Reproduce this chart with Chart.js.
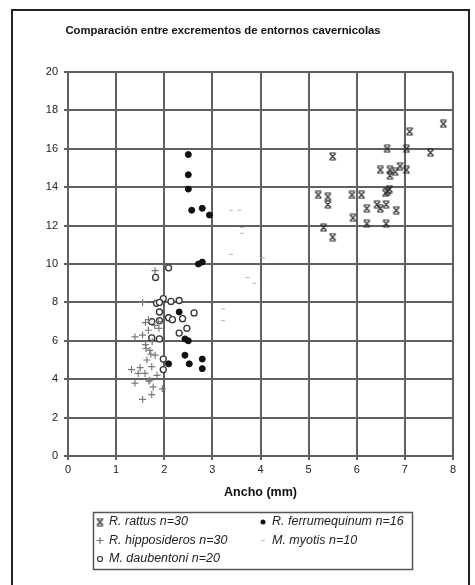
<!DOCTYPE html>
<html>
<head>
<meta charset="utf-8">
<script src="https://cdn.jsdelivr.net/npm/chart.js@4.4.1/dist/chart.umd.min.js"></script>
<style>
html, body { margin: 0; padding: 0; background: #fff; }
#marco { position: absolute; left: 11px; top: 9px; width: 455px; height: 600px; border: 2px solid #222; }
#zona { position: absolute; left: 0; top: 0; width: 475px; height: 585px; }
</style>
</head>
<body>
<div id="marco"></div>
<div id="zona"><canvas id="grafico_cuevas" width="475" height="585"></canvas></div>
<script>
// Datos: ancho (mm) en X, largo (mm) en Y
const rattus_x = [7.80, 7.10, 6.63, 7.03, 7.53, 5.50, 6.49, 6.69, 6.80, 6.90, 7.03, 6.69, 6.68, 6.64, 6.60,
                  5.20, 5.40, 5.40, 5.90, 6.10, 6.21, 6.42, 6.49, 6.61, 6.82, 5.92, 6.21, 6.61, 5.31, 5.50];
const rattus_y = [17.3, 16.9, 16.0, 16.0, 15.8, 15.6, 14.9, 14.9, 14.8, 15.1, 14.9, 14.6, 13.9, 13.8, 13.7,
                  13.6, 13.5, 13.1, 13.6, 13.6, 12.9, 13.1, 12.9, 13.1, 12.8, 12.4, 12.1, 12.1, 11.9, 11.4];

const ferrum_x = [2.50, 2.50, 2.50, 2.57, 2.79, 2.94, 2.71, 2.79, 2.31, 2.43, 2.50, 2.43, 2.79, 2.52, 2.79, 2.09];
const ferrum_y = [15.7, 14.65, 13.9, 12.8, 12.9, 12.55, 10.0, 10.1, 7.5, 6.1, 6.0, 5.25, 5.05, 4.8, 4.55, 4.8];

const hippo_x = [1.81, 1.55, 1.67, 1.61, 1.89, 1.67, 1.39, 1.55, 1.61, 1.70, 1.81, 1.64, 1.74, 1.32, 1.46,
                 1.60, 1.39, 1.70, 1.77, 1.96, 1.74, 1.55, 1.75, 1.88, 1.50, 1.85, 1.62, 1.72, 1.68, 1.80];
const hippo_y = [9.65, 8.0, 7.1, 6.95, 6.65, 6.55, 6.2, 6.3, 5.8, 5.5, 5.25, 5.0, 4.65, 4.5, 4.3,
                 4.3, 3.8, 3.95, 3.6, 3.5, 3.2, 2.95, 5.95, 7.0, 4.6, 4.2, 5.6, 5.3, 3.9, 6.8];

const myotis_x = [3.39, 3.56, 3.61, 3.62, 3.39, 4.05, 3.73, 3.87, 3.22, 3.22];
const myotis_y = [12.8, 12.8, 11.9, 11.6, 10.5, 10.3, 9.3, 9.0, 7.65, 7.05];

const daub_x = [2.09, 1.82, 1.98, 1.84, 1.90, 2.14, 2.31, 1.90, 2.62, 1.74, 1.90, 2.09, 2.17, 2.38, 2.47,
                2.31, 1.74, 1.90, 1.98, 1.98];
const daub_y = [9.8, 9.3, 8.2, 7.95, 8.0, 8.05, 8.1, 7.5, 7.45, 7.0, 7.05, 7.2, 7.1, 7.15, 6.65,
                6.4, 6.15, 6.1, 5.05, 4.5];

const ticks_x = [0, 1, 2, 3, 4, 5, 6, 7, 8];
const ticks_y = [0, 2, 4, 6, 8, 10, 12, 14, 16, 18, 20];

const titulo = 'Comparación entre excrementos de entornos cavernicolas';
const titulo_x = 'Ancho (mm)';

const fuente = '"Liberation Sans", Arial, sans-serif';

function puntos(xs, ys) {
    return xs.map(function(v, i) { return { x: v, y: ys[i] }; });
}

// Marcador de R. rattus: aspa con tapas arriba y abajo
const icono_rattus = document.createElement('canvas');
icono_rattus.width = 9; icono_rattus.height = 9;
(function() {
    let c = icono_rattus.getContext('2d');
    c.strokeStyle = '#2a2a2a';
    c.lineWidth = 1.1;
    c.beginPath();
    c.moveTo(1.5, 1.5); c.lineTo(7.5, 7.5);
    c.moveTo(7.5, 1.5); c.lineTo(1.5, 7.5);
    c.moveTo(1.5, 1); c.lineTo(7.5, 1);
    c.moveTo(1.5, 8); c.lineTo(7.5, 8);
    c.stroke();
})();

const leyenda = [
    { txt: 'R. rattus n=30', col: 0, fila: 0, tipo: 'rattus' },
    { txt: 'R. ferrumequinum n=16', col: 1, fila: 0, tipo: 'ferrum' },
    { txt: 'R. hipposideros n=30', col: 0, fila: 1, tipo: 'hippo' },
    { txt: 'M. myotis n=10', col: 1, fila: 1, tipo: 'myotis' },
    { txt: 'M. daubentoni n=20', col: 0, fila: 2, tipo: 'daub' }
];

function marcador_leyenda(ctx, tipo, x, y) {
    ctx.save();
    if (tipo === 'rattus') {
        ctx.drawImage(icono_rattus, x - 4.5, y - 4.5);
    } else if (tipo === 'ferrum') {
        ctx.fillStyle = '#111';
        ctx.beginPath(); ctx.arc(x, y, 2.5, 0, Math.PI * 2); ctx.fill();
    } else if (tipo === 'hippo') {
        ctx.strokeStyle = '#777'; ctx.lineWidth = 1.2;
        ctx.beginPath(); ctx.moveTo(x - 3.5, y); ctx.lineTo(x + 3.5, y);
        ctx.moveTo(x, y - 3.5); ctx.lineTo(x, y + 3.5); ctx.stroke();
    } else if (tipo === 'myotis') {
        ctx.strokeStyle = '#bbb'; ctx.lineWidth = 1;
        ctx.beginPath(); ctx.moveTo(x - 2, y); ctx.lineTo(x + 2, y); ctx.stroke();
    } else {
        ctx.strokeStyle = '#333'; ctx.lineWidth = 1.2;
        ctx.beginPath(); ctx.arc(x, y, 2.5, 0, Math.PI * 2); ctx.stroke();
    }
    ctx.restore();
}

const plugin_textos = {
    id: 'textos_cuevas',
    afterDraw: function(chart) {
        const ctx = chart.ctx;
        ctx.save();
        ctx.fillStyle = '#111';
        ctx.font = 'bold 11.3px ' + fuente;
        ctx.textAlign = 'center';
        ctx.textBaseline = 'middle';
        ctx.fillText(titulo, 223, 31);

        // caja de leyenda
        ctx.strokeStyle = '#555';
        ctx.lineWidth = 1.5;
        ctx.strokeRect(93.5, 512.5, 319, 57);
        ctx.font = 'italic 12.5px ' + fuente;
        ctx.textAlign = 'left';
        ctx.fillStyle = '#222';
        leyenda.forEach(function(it) {
            const bx = it.col === 0 ? 100 : 263;
            const by = 522 + it.fila * 18.5;
            marcador_leyenda(ctx, it.tipo, bx, by);
            ctx.fillText(it.txt, bx + 9, by);
        });
        ctx.restore();
    }
};

const color_rejilla = '#606060';

new Chart(document.getElementById('grafico_cuevas'), {
    type: 'scatter',
    data: {
        datasets: [
            {
                label: 'R. hipposideros n=30',
                data: puntos(hippo_x, hippo_y),
                pointStyle: 'cross',
                pointRadius: 3.5,
                borderColor: '#7a7a7a',
                borderWidth: 1.2,
                backgroundColor: '#7a7a7a'
            },
            {
                label: 'M. daubentoni n=20',
                data: puntos(daub_x, daub_y),
                pointStyle: 'circle',
                pointRadius: 3,
                borderColor: '#333',
                borderWidth: 1.3,
                backgroundColor: '#fff'
            },
            {
                label: 'M. myotis n=10',
                data: puntos(myotis_x, myotis_y),
                pointStyle: 'line',
                pointRadius: 2,
                borderColor: '#b5b5b5',
                borderWidth: 1,
                backgroundColor: '#b5b5b5'
            },
            {
                label: 'R. ferrumequinum n=16',
                data: puntos(ferrum_x, ferrum_y),
                pointStyle: 'circle',
                pointRadius: 3,
                borderColor: '#111',
                borderWidth: 1,
                backgroundColor: '#111'
            },
            {
                label: 'R. rattus n=30',
                data: puntos(rattus_x, rattus_y),
                pointStyle: icono_rattus,
                pointRadius: 4,
                borderColor: '#2a2a2a',
                backgroundColor: '#2a2a2a'
            }
        ]
    },
    options: {
        responsive: false,
        animation: false,
        layout: { padding: { top: 72, right: 22, bottom: 80, left: 0 } },
        plugins: {
            legend: { display: false },
            title: { display: false },
            tooltip: { enabled: false }
        },
        scales: {
            x: {
                type: 'linear',
                min: ticks_x[0],
                max: ticks_x[ticks_x.length - 1],
                afterBuildTicks: function(s) { s.ticks = ticks_x.map(function(v) { return { value: v }; }); },
                afterFit: function(s) { s.height = 49; },
                grid: { color: color_rejilla, lineWidth: 2, tickLength: 4 },
                border: { color: color_rejilla, width: 2 },
                ticks: { color: '#222', padding: 3, font: { size: 11, family: fuente } },
                title: {
                    display: true,
                    text: titulo_x,
                    color: '#111',
                    padding: { top: 0, bottom: 5 },
                    font: { size: 12.5, weight: 'bold', family: fuente }
                }
            },
            y: {
                type: 'linear',
                min: ticks_y[0],
                max: ticks_y[ticks_y.length - 1],
                afterBuildTicks: function(s) { s.ticks = ticks_y.map(function(v) { return { value: v }; }); },
                afterFit: function(s) { s.width = 68; },
                grid: { color: color_rejilla, lineWidth: 2, tickLength: 4 },
                border: { color: color_rejilla, width: 2 },
                ticks: { color: '#222', padding: 6, font: { size: 11, family: fuente } }
            }
        }
    },
    plugins: [plugin_textos]
});
</script>
</body>
</html>
